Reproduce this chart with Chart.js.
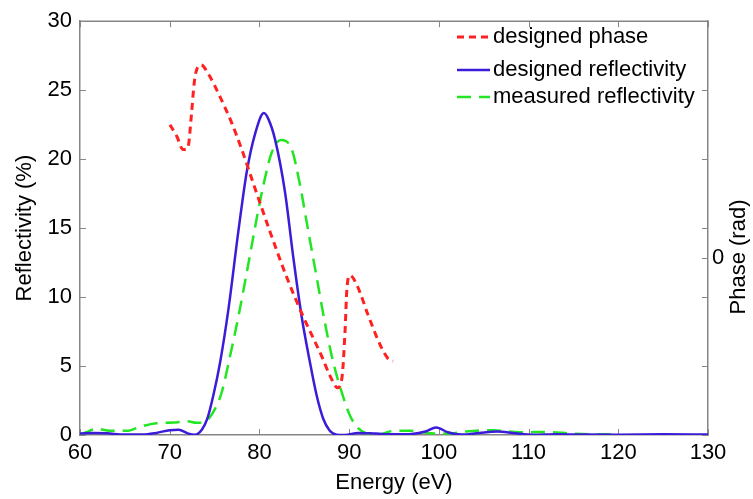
<!DOCTYPE html>
<html>
<head>
<meta charset="utf-8">
<script src="https://cdn.jsdelivr.net/npm/chart.js@4.4.1/dist/chart.umd.min.js"></script>
<style>
  html, body { margin: 0; padding: 0; background: #fff; }
  canvas { display: block; }
</style>
</head>
<body>
<canvas id="chart" width="753" height="499"></canvas>
<script>
// ================= DATA =================
// designed reflectivity (%) vs energy (eV)
const designedE = [60, 61.5, 63, 65, 67, 68.5, 70, 71, 72, 72.8, 73.6, 74.2, 74.86, 75.61, 76.53, 77.65, 78.58, 79.5,
  80.5, 81.0, 81.74, 82.85, 83.78, 84.71, 85.64, 86.38, 87.1, 87.8, 88.6, 89.5, 91, 93, 95, 97, 98.5, 99.7, 101,
  102.5, 104.5, 106.5, 108.5, 110.5, 113, 116, 120, 125, 130];
const designedR = [0.1, 0.15, 0.12, 0.03, 0.03, 0.15, 0.35, 0.38, 0.12, 0.02, 0.4, 1.2, 2.86, 5.24, 9.05, 14.76, 19.05, 21.8,
  23.34, 22.9, 21.43, 17.62, 12.86, 8.57, 5.24, 2.86, 1.2, 0.35, 0.02, 0, 0.15, 0.1, 0.05, 0.08, 0.25, 0.55, 0.2,
  0.03, 0.15, 0.25, 0.12, 0.02, 0.06, 0.03, 0.02, 0.05, 0.03];

// measured reflectivity (%)
const measuredE = [60, 60.7, 61.9, 63.3, 65.2, 66.7, 68.5, 70.4, 71.9, 73, 74, 74.8, 75.8, 76.72, 77.65, 78.76, 79.7,
  80.44, 81.37, 82.41, 83.6, 84.53, 85.45, 86.38, 87.31, 88.24, 89.17, 90.1, 91, 92, 93.2, 95, 97, 99, 101, 103,
  106, 109, 112, 115, 118, 120];
const measuredR = [0, 0.2, 0.45, 0.3, 0.3, 0.6, 0.85, 0.9, 1.0, 0.88, 1.0, 1.6, 3.1, 5.71, 8.57, 12.38, 15.71,
  18.1, 20.48, 21.38, 20.71, 18.1, 14.76, 11.43, 8.1, 5.24, 3.1, 1.4, 0.5, 0.1, 0.02, 0.3, 0.3, 0.12, 0.1, 0.25,
  0.35, 0.2, 0.22, 0.1, 0.05, 0.05];

// designed phase (rad), right axis
const phaseE = [70.03, 70.8, 71.48, 72.0, 72.45, 72.63, 72.82, 73.19, 73.5, 74.3, 75.61, 76.91, 78.03, 79.51, 81.18,
  83.04, 84.89, 86.95, 87.87, 88.7, 89.2, 89.54, 89.75, 90.1, 90.88, 92.11, 93.44, 94.3, 94.89];
const phaseV = [2.25, 2.05, 1.83, 1.85, 2.47, 2.8, 3.06, 3.24, 3.26, 3.11, 2.72, 2.28, 1.83, 1.17, 0.44,
  -0.33, -1.0, -1.67, -2.0, -2.2, -2.03, -1.25, -0.53, -0.3, -0.47, -0.97, -1.47, -1.7, -1.75];

const xTicks = [60, 70, 80, 90, 100, 110, 120, 130];
const phaseTicks = [0];

// ================= STYLE =================
const FONT = { family: "'Liberation Sans', Arial, sans-serif", size: 22 };
const AXIS_COLOR = "#868686";
const RED = "#ff2020";
const BLUE = "#3a1cd9";
const GREEN = "#22e622";

function pts(xs, ys) {
  return xs.map((x, i) => ({ x: x, y: ys[i] }));
}

// ================= PLUGIN : FRAME + LEGEND =================
const frameAndLegend = {
  id: "frameAndLegend",
  beforeDatasetsDraw(chart) {
    const { ctx, chartArea: a, scales } = chart;
    ctx.save();
    ctx.strokeStyle = AXIS_COLOR;
    ctx.lineWidth = 1.5;
    ctx.beginPath();
    ctx.moveTo(a.left, a.top);
    ctx.lineTo(a.right, a.top);
    ctx.stroke();

    const len = 6;
    ctx.lineWidth = 1;
    ctx.beginPath();
    scales.x.ticks.forEach(t => {
      const px = Math.round(scales.x.getPixelForValue(t.value)) + 0.5;
      ctx.moveTo(px, a.bottom); ctx.lineTo(px, a.bottom - len);
      ctx.moveTo(px, a.top); ctx.lineTo(px, a.top + len);
    });
    scales.y.ticks.forEach(t => {
      const py = Math.round(scales.y.getPixelForValue(t.value)) + 0.5;
      ctx.moveTo(a.left, py); ctx.lineTo(a.left + len, py);
      ctx.moveTo(a.right, py); ctx.lineTo(a.right - len, py);
    });
    scales.y2.ticks.forEach(t => {
      const py = Math.round(scales.y2.getPixelForValue(t.value)) + 0.5;
      ctx.moveTo(a.right, py); ctx.lineTo(a.right - len, py);
    });
    ctx.stroke();
    ctx.restore();
  },
  afterDraw(chart) {
    const { ctx } = chart;
    ctx.save();
    // right axis title, reading bottom to top
    ctx.font = FONT.size + "px " + FONT.family;
    ctx.fillStyle = "#000";
    ctx.textAlign = "center";
    ctx.textBaseline = "middle";
    ctx.translate(739, 257);
    ctx.rotate(-Math.PI / 2);
    ctx.fillText("Phase (rad)", 0, 0);
    ctx.restore();

    // legend
    const rows = [37, 70, 97];
    const order = [0, 1, 2];
    ctx.save();
    ctx.font = FONT.size + "px " + FONT.family;
    ctx.textBaseline = "middle";
    ctx.textAlign = "left";
    order.forEach((di, i) => {
      const ds = chart.data.datasets[di];
      ctx.strokeStyle = ds.borderColor;
      ctx.lineWidth = ds.borderWidth;
      ctx.setLineDash(ds.borderDash || []);
      ctx.beginPath();
      ctx.moveTo(457, rows[i]);
      ctx.lineTo(490, rows[i]);
      ctx.stroke();
      ctx.setLineDash([]);
      ctx.fillStyle = "#000";
      ctx.fillText(ds.label, 493, rows[i]);
    });
    ctx.restore();
  }
};

// ================= CHART =================
const ctx = document.getElementById("chart").getContext("2d");

new Chart(ctx, {
  type: "line",
  data: {
    datasets: [
      {
        label: "designed phase",
        data: pts(phaseE, phaseV),
        yAxisID: "y2",
        borderColor: RED,
        borderWidth: 3,
        borderDash: [7, 5],
        cubicInterpolationMode: "monotone",
        pointRadius: 0,
        order: 0
      },
      {
        label: "designed reflectivity",
        data: pts(designedE, designedR),
        yAxisID: "y",
        borderColor: BLUE,
        borderWidth: 2.5,
        cubicInterpolationMode: "monotone",
        pointRadius: 0,
        order: 1
      },
      {
        label: "measured reflectivity",
        data: pts(measuredE, measuredR),
        yAxisID: "y",
        borderColor: GREEN,
        borderWidth: 2.5,
        borderDash: [14, 8],
        cubicInterpolationMode: "monotone",
        pointRadius: 0,
        order: 2
      }
    ]
  },
  options: {
    responsive: false,
    animation: false,
    layout: { padding: { top: 15, left: 0, right: 0, bottom: 0 } },
    plugins: {
      legend: { display: false },
      tooltip: { enabled: false }
    },
    scales: {
      x: {
        type: "linear",
        min: 60,
        max: 130,
        afterBuildTicks: s => { s.ticks = xTicks.map(v => ({ value: v })); },
        afterFit: s => { s.height = 64; },
        ticks: { font: FONT, color: "#000", padding: 5, maxRotation: 0 },
        grid: { display: false, drawTicks: false },
        border: { display: true, color: AXIS_COLOR, width: 1.5 },
        title: { display: true, text: "Energy (eV)", font: FONT, color: "#000", padding: { top: 0, bottom: 3 } }
      },
      y: {
        position: "left",
        min: 0,
        max: 30,
        ticks: { stepSize: 5, font: FONT, color: "#000", padding: 8 },
        afterFit: s => { s.width = 80; },
        grid: { display: false, drawTicks: false },
        border: { display: true, color: AXIS_COLOR, width: 1.5 },
        title: { display: true, text: "Reflectivity (%)", font: FONT, color: "#000", padding: { top: 12, bottom: 0 } }
      },
      y2: {
        position: "right",
        min: -3,
        max: 4,
        afterBuildTicks: s => { s.ticks = phaseTicks.map(v => ({ value: v })); },
        afterFit: s => { s.width = 45; },
        ticks: { font: FONT, color: "#000", padding: 4 },
        grid: { display: false, drawTicks: false },
        border: { display: true, color: AXIS_COLOR, width: 1.5 }
      }
    }
  },
  plugins: [frameAndLegend]
});
</script>
</body>
</html>
